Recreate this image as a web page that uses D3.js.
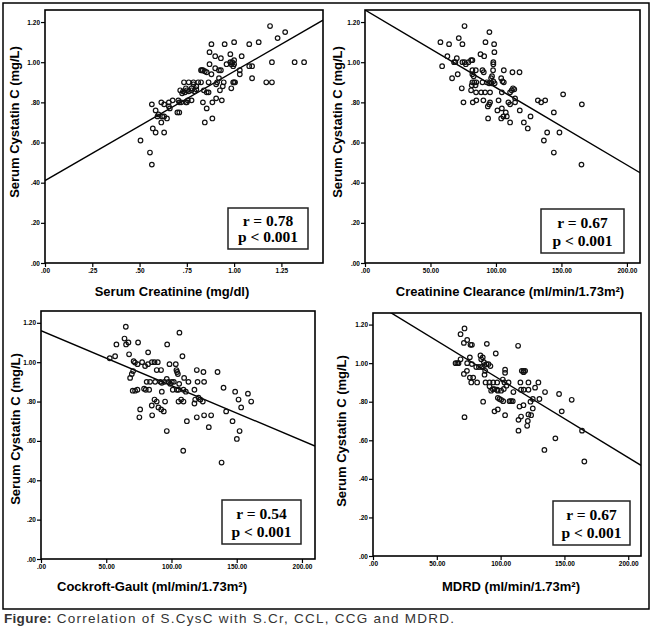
<!DOCTYPE html>
<html>
<head>
<meta charset="utf-8">
<script src="https://cdnjs.cloudflare.com/ajax/libs/d3/7.8.5/d3.min.js"></script>
<style>
    body { margin: 0; background: #fff; }
    svg text { font-family: "Liberation Sans", Arial, sans-serif; }
</style>
</head>
<body>
<svg id="fig" width="650" height="636"></svg>
<script>
/* global d3 */

// [x, serum cystatin C]
var crPoints = [
    [1.19,1.18],[1.27,1.15],[1.23,1.12],[1.13,1.10],[1.08,1.09],[1.00,1.10],[0.95,1.09],[0.88,1.09],
    [0.87,1.05],[0.90,1.03],[0.93,1.02],[0.98,1.04],[1.04,1.03],
    [0.98,1.00],[0.99,1.00],[1.00,1.01],[1.00,0.99],[0.985,0.99],
    [0.96,0.99],[0.87,0.99],[0.92,0.96],[0.90,0.97],[0.93,0.96],[0.995,0.98],[1.03,0.96],[1.03,0.94],
    [1.08,0.98],[1.095,0.98],[1.20,1.00],[1.32,1.00],[1.37,1.00],[1.095,0.92],[1.17,0.90],[1.20,0.90],
    [0.995,0.90],[1.00,0.90],[1.005,0.90],[0.945,0.90],[0.985,0.87],[0.94,0.88],
    [0.825,0.96],[0.83,0.96],[0.835,0.96],[0.845,0.955],[0.855,0.95],[0.88,0.94],
    [0.825,0.90],[0.865,0.90],[0.92,0.92],[0.905,0.89],[0.91,0.90],[0.925,0.86],[0.935,0.81],[0.905,0.82],
    [0.885,0.80],[0.835,0.80],[0.855,0.77],[0.845,0.70],[0.885,0.72],[0.865,0.85],[0.855,0.85],[0.84,0.86],
    [0.81,0.90],[0.785,0.90],[0.76,0.90],[0.735,0.90],[0.745,0.87],[0.775,0.87],[0.715,0.86],
    [0.73,0.855],[0.74,0.85],[0.75,0.86],[0.76,0.855],[0.775,0.86],[0.79,0.855],[0.80,0.865],[0.725,0.845],
    [0.785,0.89],[0.80,0.88],
    [0.755,0.81],[0.745,0.80],[0.72,0.80],[0.71,0.80],[0.705,0.81],[0.775,0.81],[0.75,0.80],
    [0.675,0.81],[0.655,0.80],[0.66,0.77],[0.655,0.78],[0.63,0.79],[0.615,0.80],[0.565,0.79],[0.585,0.76],
    [0.60,0.74],[0.62,0.73],[0.645,0.72],[0.615,0.70],[0.63,0.73],[0.595,0.73],
    [0.71,0.75],[0.70,0.75],[0.57,0.67],[0.585,0.65],[0.63,0.65],[0.505,0.61],[0.555,0.55],[0.565,0.49]
];

var cclPoints = [
    [76,1.18],[95,1.15],[57.6,1.10],[64.2,1.09],[71.6,1.12],[74.4,1.09],[92,1.10],[98.6,1.09],[98.8,1.05],
    [91,1.03],[88.2,1.04],[62.9,1.03],[70.1,1.02],[68,1.00],[69,1.00],[74.4,1.00],
    [76,1.00],[77,0.99],[79,1.00],[81,1.01],[82,1.01],[58.9,0.98],[66.5,0.92],[70.8,0.94],[82,0.96],
    [84.6,0.96],[82,0.94],[83,0.93],[89.7,0.96],[90.7,0.95],[98,1.00],[98,0.99],[97.8,0.96],[106,0.96],
    [112.6,0.95],[118,0.95],[96.3,0.92],[97,0.93],[104,0.92],
    [82,0.90],[83.5,0.90],[85,0.90],[81.5,0.885],[84.4,0.885],[89.7,0.90],[93,0.90],[94.8,0.895],
    [96.6,0.895],[98,0.905],[99,0.895],[106,0.90],[105,0.905],
    [73.9,0.87],[81,0.86],[84.8,0.85],[88.7,0.85],[91.7,0.85],[95.5,0.85],[104.5,0.85],[110.8,0.85],
    [112,0.86],[113,0.87],[114,0.865],
    [85,0.81],[82.3,0.80],[75.2,0.80],[90.4,0.81],[95.5,0.80],[94.8,0.79],[102,0.81],[109.5,0.80],
    [110.8,0.79],[114.6,0.82],[114.6,0.80],[118.2,0.76],[93.8,0.78],[101.1,0.76],[104.5,0.77],[107.5,0.75],
    [105.7,0.73],[104,0.72],[108.3,0.73],[94,0.72],[110.8,0.70],[121.3,0.70],[126.4,0.73],[124.3,0.67],
    [132,0.81],[134.5,0.80],[137.6,0.81],[151.3,0.84],[144.2,0.75],[165.6,0.79],[139.1,0.65],[148.5,0.65],
    [136.6,0.61],[144.2,0.55],[165.3,0.49]
];

var ccgPoints = [
    [65,1.18],[106.1,1.15],[64,1.12],[65.2,1.09],[67,1.10],[57.8,1.09],[74.4,1.10],[96.7,1.09],[52.7,1.02],
    [56.8,1.03],[67.5,1.04],[82.1,1.05],[108.4,1.03],
    [71,1.005],[72,0.998],[74,0.99],[77.5,1.00],[79.8,0.98],[82,0.99],[85,1.00],[87,1.00],[89.5,1.00],
    [70.6,0.955],[68.3,0.92],[69.6,0.94],[88.7,0.96],[92,0.96],[98.5,0.99],[103.3,0.99],[103.8,0.96],
    [104.3,0.95],[104.9,0.94],[119.4,0.96],[124.5,0.95],[135.3,0.95],
    [81,0.90],[83.6,0.90],[87.5,0.90],[91.5,0.90],[92.6,0.895],[94.6,0.90],[97.7,0.90],[100.3,0.90],
    [101.8,0.90],[96.4,0.915],[99,0.89],
    [109.7,0.92],[105.9,0.89],[113,0.90],[120,0.90],[125,0.90],
    [79,0.865],[80.3,0.86],[82.9,0.86],[72.1,0.855],[70.3,0.855],[73.9,0.86],[92.6,0.85],[101,0.86],
    [104.1,0.86],[105.4,0.86],[109.2,0.86],[111,0.85],[117.6,0.86],[139.9,0.87],[148.8,0.85],[158.6,0.84],
    [151.4,0.81],[161.1,0.80],[153.4,0.77],
    [87,0.81],[88.7,0.80],[95.1,0.80],[84.9,0.78],[90,0.77],[92.1,0.76],[94.1,0.75],
    [105.4,0.80],[107.4,0.81],[109.2,0.80],[118.2,0.81],[120.7,0.82],[122.2,0.81],[117.6,0.79],[124,0.80],
    [76,0.76],[75.4,0.72],[85.2,0.73],[111.8,0.70],[119.4,0.72],[125,0.73],[130.4,0.73],[128.6,0.67],
    [141.9,0.75],[146.8,0.70],[152.2,0.65],[150.1,0.61],[96.4,0.65],[109,0.55],[138.4,0.49]
];

var mdrdPoints = [
    [71.7,1.18],[68.6,1.15],[73.8,1.12],[71.2,1.105],[76.4,1.095],[77.5,1.095],[89.2,1.10],[113.7,1.09],
    [96.2,1.05],[84.2,1.04],[86,1.03],[84.8,1.02],[86.9,1.005],[88.9,0.995],[90.5,0.995],[92,0.985],[87.4,0.99],
    [64.7,1.00],[66,1.00],[67,1.00],[68.6,1.02],[75.9,1.03],[73.8,1.00],[77.5,0.995],[80.9,0.98],[83,0.98],
    [85.3,0.98],[73.6,0.96],[71.2,0.944],[75.9,0.925],[78.5,0.925],[81.6,0.90],[77,0.90],[87.9,0.96],[87.4,0.94],
    [88.2,0.90],[91.3,0.90],[94.2,0.90],[97.3,0.90],[91.3,0.88],[93.9,0.865],[92.6,0.857],[95.2,0.865],
    [97.3,0.862],[103.5,0.966],[103.5,0.95],[101.7,0.915],[103,0.90],[106.2,0.90],[104.6,0.883],[102.5,0.866],
    [100.4,0.857],[97.8,0.857],
    [116.6,0.96],[118,0.96],[119.2,0.96],[118,0.953],[115.5,0.90],[121.8,0.90],[129.6,0.90],[116,0.862],
    [118.1,0.862],[121.8,0.862],[127,0.873],[134.8,0.85],[145.8,0.84],[155.7,0.81],[110,0.85],
    [86.3,0.80],[97.8,0.82],[99.1,0.814],[100.4,0.81],[102,0.803],[107,0.803],[108.2,0.803],[109.5,0.803],
    [95.2,0.75],[97.8,0.76],[103.5,0.73],[114.8,0.775],[117.9,0.782],[123.4,0.80],[125.2,0.814],[130.4,0.814],
    [116,0.723],[114,0.706],[121.8,0.734],[123.9,0.73],[121.3,0.70],[120.8,0.675],[125.2,0.765],[147.9,0.75],
    [114,0.65],[71.7,0.72],[142.9,0.61],[134.3,0.55],[163.8,0.65],[165.6,0.49]
];

var xTitles = ['Serum Creatinine (mg/dl)', 'Creatinine Clearance (ml/min/1.73m\u00b2)',
               'Cockroft-Gault  (ml/min/1.73m\u00b2)', 'MDRD (ml/min/1.73m\u00b2)'];
var yTitle = 'Serum Cystatin C (mg/L)';
var rValues = ['0.78', '0.67', '0.54', '0.67'];
var pLabel = 'p < 0.001';
// fit lines: y = a + b * x
var fitIntercepts = [0.41, 1.26, 1.16, 1.318];
var fitSlopes = [0.544, -0.00386, -0.00279, -0.00404];
var crTicks = [0, 0.25, 0.5, 0.75, 1, 1.25];
var gfrTicks = [0, 50, 100, 150, 200];
var cysTicks = [0, 0.2, 0.4, 0.6, 0.8, 1.0, 1.2];

(function(d3) {
    'use strict';

    var panels = [
        {pts: crPoints, xTicks: crTicks, xMax: 1.47,
         l: 45, r: 323, t: 10, b: 263, box: [228, 208, 80, 41], xt: [172, 296], yt: [19, 122]},
        {pts: cclPoints, xTicks: gfrTicks, xMax: 210,
         l: 365, r: 640, t: 10, b: 263, box: [541, 209, 83, 44], xt: [510, 296], yt: [342, 122]},
        {pts: ccgPoints, xTicks: gfrTicks, xMax: 210,
         l: 41, r: 315, t: 311, b: 559, box: [222, 500, 79, 44], xt: [152, 591], yt: [20, 429]},
        {pts: mdrdPoints, xTicks: gfrTicks, xMax: 210,
         l: 373, r: 641, t: 313, b: 556, box: [553, 501, 77, 44], xt: [511, 591], yt: [346, 431]}
    ];

    var fmt = function(v) {
        return d3.format('.2f')(v).replace(/^0\./, '.');
    };

    var svg = d3.select('#fig');

    svg.append('rect')
        .attr('x', 3).attr('y', 3)
        .attr('width', 646).attr('height', 606)
        .attr('fill', 'none').attr('stroke', '#000').attr('stroke-width', 1.5);

    panels.forEach(function(p, i) {
        var x = d3.scaleLinear().domain([0, p.xMax]).range([p.l, p.r]);
        var y = d3.scaleLinear().domain([0, 1.26]).range([p.b, p.t]);
        var g = svg.append('g');

        g.append('clipPath').attr('id', 'clip' + i)
            .append('rect')
            .attr('x', p.l).attr('y', p.t)
            .attr('width', p.r - p.l).attr('height', p.b - p.t);

        var xa = g.append('g')
            .attr('transform', 'translate(0,' + p.b + ')')
            .call(d3.axisBottom(x).tickValues(p.xTicks).tickFormat(fmt).tickSize(4).tickPadding(1));
        var ya = g.append('g')
            .attr('transform', 'translate(' + p.l + ',0)')
            .call(d3.axisLeft(y).tickValues(cysTicks).tickFormat(fmt).tickSize(4).tickPadding(1));
        [xa, ya].forEach(function(a) {
            a.select('.domain').remove();
            a.selectAll('line').attr('stroke', '#000').attr('stroke-width', 1.2);
            a.selectAll('text')
                .style('font-family', '"Liberation Sans", Arial, sans-serif')
                .style('font-size', '6.5px').style('font-weight', 'bold').attr('fill', '#000');
        });

        g.append('line')
            .attr('clip-path', 'url(#clip' + i + ')')
            .attr('x1', x(0)).attr('y1', y(fitIntercepts[i]))
            .attr('x2', x(p.xMax)).attr('y2', y(fitIntercepts[i] + fitSlopes[i] * p.xMax))
            .attr('stroke', '#000').attr('stroke-width', 1.4);

        g.selectAll('circle.pt')
            .data(p.pts)
            .enter().append('circle').classed('pt', true)
            .attr('cx', function(d) { return x(d[0]); })
            .attr('cy', function(d) { return y(d[1]); })
            .attr('r', 2.3)
            .attr('fill', 'none').attr('stroke', '#111').attr('stroke-width', 1.2);

        g.append('rect')
            .attr('x', p.l).attr('y', p.t)
            .attr('width', p.r - p.l).attr('height', p.b - p.t)
            .attr('fill', 'none').attr('stroke', '#000').attr('stroke-width', 1.6);

        // r / p box
        g.append('rect')
            .attr('x', p.box[0]).attr('y', p.box[1])
            .attr('width', p.box[2]).attr('height', p.box[3])
            .attr('fill', '#fff').attr('stroke', '#222').attr('stroke-width', 1.5);
        var cx = p.box[0] + p.box[2] / 2;
        [['r = ' + rValues[i], 0.43], [pLabel, 0.83]].forEach(function(s) {
            g.append('text')
                .attr('x', cx).attr('y', p.box[1] + p.box[3] * s[1])
                .attr('text-anchor', 'middle')
                .style('font-family', '"Liberation Serif", "Times New Roman", serif')
                .style('font-size', '15.5px').style('font-weight', 'bold')
                .text(s[0]);
        });

        g.append('text')
            .attr('x', p.xt[0]).attr('y', p.xt[1])
            .attr('text-anchor', 'middle')
            .style('font-size', '13px').style('font-weight', 'bold')
            .text(xTitles[i]);
        g.append('text')
            .attr('transform', 'translate(' + p.yt[0] + ',' + p.yt[1] + ') rotate(-90)')
            .attr('text-anchor', 'middle')
            .style('font-size', '13px').style('font-weight', 'bold')
            .text(yTitle);
    });

    var cap = svg.append('text')
        .attr('x', 4).attr('y', 623)
        .attr('fill', '#333')
        .style('font-size', '13.5px');
    cap.append('tspan').style('font-weight', 'bold').style('letter-spacing', '0.3px').text('Figure:');
    cap.append('tspan').style('letter-spacing', '1.25px')
        .text(' Correlation of S.CysC with S.Cr, CCL, CCG and MDRD.');
}(d3));
</script>
</body>
</html>
